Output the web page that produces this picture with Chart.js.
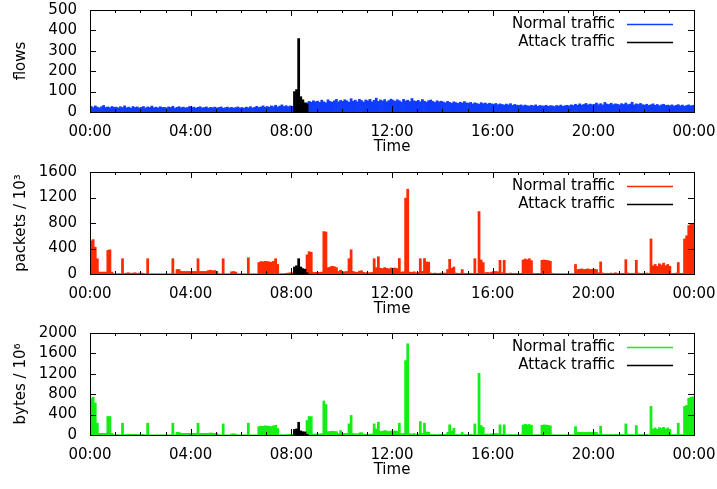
<!DOCTYPE html>
<html lang="en">
<head>
<meta charset="utf-8">
<title>Traffic</title>
<script src="https://cdn.jsdelivr.net/npm/chart.js@4.4.1/dist/chart.umd.min.js"></script>
<style>
  body { margin: 0; background: #fff; }
  .painel { position: absolute; left: 0; width: 717px; height: 162px; }
</style>
</head>
<body>
<div class="painel" style="top:0"><canvas id="chartFlows"></canvas></div>
<div class="painel" style="top:162px"><canvas id="chartPackets"></canvas></div>
<div class="painel" style="top:323px"><canvas id="chartBytes"></canvas></div>
<script>
// Cada valor cobre 5 minutos (uma linha = uma hora)
const binMinutes = 5;
// O ataque comeca as 08:05 (minuto 485)
const attackStart = 485;

const xTickLabels = ["00:00", "04:00", "08:00", "12:00", "16:00", "20:00", "00:00"];
const legendLabels = ["Normal traffic", "Attack traffic"];

const flowsNormal = [
  28, 22, 30, 24, 20, 26, 32, 22, 25, 21, 27, 23,
  24, 20, 26, 22, 30, 21, 24, 19, 27, 22, 25, 20,
  23, 27, 20, 25, 22, 29, 21, 24, 20, 26, 22, 23,
  20, 25, 22, 28, 19, 23, 26, 21, 24, 20, 22, 27,
  21, 24, 19, 23, 26, 20, 22, 25, 19, 23, 21, 24,
  20, 22, 25, 19, 21, 24, 20, 23, 19, 22, 25, 20,
  22, 19, 24, 21, 26, 20, 23, 28, 22, 25, 30, 24,
  27, 24, 30, 26, 33, 25, 29, 35, 27, 31, 26, 30,
  28, 25, 30, 27, 28, 26, 30, 45, 52, 48, 55, 50,
  53, 47, 58, 50, 45, 60, 52, 48, 55, 62, 50, 57,
  52, 60, 55, 48, 65, 53, 58, 50, 62, 56, 49, 59,
  55, 62, 50, 57, 68, 52, 59, 54, 61, 50, 56, 63,
  58, 52, 60, 55, 49, 62, 54, 58, 51, 66, 55, 52,
  57, 50, 61, 53, 48, 56, 59, 52, 47, 55, 50, 53,
  49, 45, 52, 47, 43, 50, 46, 42, 48, 44, 51, 45,
  43, 47, 40, 45, 42, 38, 46, 41, 44, 39, 43, 40,
  38, 42, 36, 40, 37, 34, 39, 35, 41, 33, 37, 34,
  32, 35, 30, 34, 31, 29, 33, 30, 35, 28, 32, 30,
  29, 33, 28, 31, 30, 27, 32, 29, 34, 28, 31, 33,
  30, 35, 32, 38, 33, 40, 34, 37, 42, 35, 39, 36,
  38, 44, 36, 41, 35, 47, 39, 37, 43, 36, 40, 38,
  35, 41, 37, 44, 36, 39, 48, 35, 40, 37, 42, 36,
  34, 38, 32, 36, 40, 33, 37, 31, 35, 38, 32, 34,
  31, 35, 29, 33, 36, 30, 34, 28, 32, 35, 30, 33,
];
const flowsAttack = [100, 110, 360, 75, 60, 45, 40];

const packetsNormal = [
  520, 540, 420, 240, 30, 30, 30, 30, 370, 380, 30, 5,
  5, 5, 5, 240, 10, 15, 20, 10, 15, 20, 10, 15,
  15, 10, 5, 240, 3, 3, 3, 3, 3, 3, 3, 3,
  3, 3, 3, 240, 3, 70, 70, 40, 40, 40, 40, 40,
  40, 40, 40, 240, 40, 40, 40, 40, 55, 60, 50, 55,
  40, 5, 3, 240, 3, 3, 3, 35, 40, 30, 3, 3,
  3, 3, 3, 255, 3, 3, 3, 3, 180, 195, 190, 200,
  195, 190, 185, 200, 240, 150, 5, 5, 5, 10, 15, 20,
  20, 60, 90, 80, 50, 40, 30, 300, 350, 340, 25, 25,
  25, 25, 30, 665, 660, 100, 110, 120, 115, 100, 40, 60,
  30, 35, 40, 240, 380, 40, 30, 25, 45, 50, 25, 20,
  20, 20, 25, 240, 100, 270, 90, 85, 100, 90, 80, 95,
  90, 95, 85, 243, 30, 35, 1190, 1330, 30, 25, 35, 20,
  25, 240, 40, 243, 190, 185, 15, 10, 15, 10, 12, 15,
  15, 15, 70, 230, 90, 110, 15, 10, 12, 70, 12, 10,
  10, 12, 10, 240, 10, 980, 220, 180, 20, 25, 20, 30,
  40, 40, 35, 215, 20, 215, 10, 10, 15, 10, 12, 10,
  10, 10, 220, 235, 225, 240, 210, 10, 8, 10, 8, 215,
  220, 215, 210, 200, 10, 5, 5, 5, 5, 5, 5, 5,
  5, 5, 5, 150, 70, 75, 80, 70, 75, 80, 70, 75,
  75, 70, 20, 190, 15, 10, 12, 10, 15, 10, 20, 12,
  10, 12, 10, 225, 15, 10, 12, 10, 215, 15, 10, 12,
  10, 15, 10, 550, 130, 150, 120, 160, 140, 170, 130, 150,
  120, 10, 10, 15, 180, 10, 10, 550, 600, 760, 780, 790,
];
const packetsAttack = [110, 130, 240, 110, 85, 75, 20];

const bytesNormal = [
  720, 740, 630, 231, 33, 33, 33, 33, 363, 363, 33, 5,
  5, 5, 5, 231, 10, 13, 15, 10, 13, 15, 10, 13,
  13, 10, 5, 231, 3, 3, 3, 3, 3, 3, 3, 3,
  3, 3, 3, 231, 3, 53, 50, 33, 33, 33, 33, 33,
  33, 33, 33, 231, 33, 33, 33, 33, 35, 40, 35, 33,
  33, 5, 3, 218, 3, 3, 3, 20, 25, 18, 3, 3,
  3, 3, 3, 231, 3, 3, 3, 3, 165, 175, 170, 180,
  175, 170, 165, 180, 190, 130, 5, 5, 5, 8, 10, 12,
  12, 40, 60, 50, 30, 25, 20, 284, 363, 360, 20, 20,
  20, 20, 25, 667, 600, 66, 70, 75, 70, 66, 30, 86,
  25, 30, 30, 218, 383, 30, 25, 20, 40, 46, 20, 15,
  15, 15, 20, 218, 119, 251, 70, 75, 86, 80, 66, 80,
  75, 80, 70, 231, 25, 30, 1459, 1789, 25, 20, 30, 15,
  20, 264, 30, 231, 60, 55, 12, 8, 12, 8, 10, 12,
  12, 12, 50, 200, 80, 132, 12, 8, 10, 50, 10, 8,
  8, 10, 8, 218, 8, 1208, 185, 150, 15, 20, 15, 25,
  30, 30, 25, 198, 15, 198, 8, 8, 10, 8, 10, 8,
  8, 8, 195, 210, 200, 205, 190, 8, 6, 8, 6, 190,
  198, 195, 190, 180, 8, 4, 4, 4, 4, 4, 4, 4,
  4, 4, 4, 165, 50, 53, 55, 50, 53, 55, 50, 53,
  55, 50, 15, 172, 12, 8, 10, 8, 12, 8, 15, 10,
  8, 10, 8, 218, 12, 8, 10, 8, 185, 12, 8, 10,
  8, 12, 8, 561, 120, 139, 110, 145, 130, 150, 120, 139,
  110, 8, 8, 12, 231, 8, 8, 560, 580, 720, 740, 750,
];
const bytesAttack = [110, 120, 250, 80, 65, 60, 15];

const fontFamily = "'DejaVu Sans', sans-serif";
const fontSize = 15;

// Converte a lista de valores em pontos {x: minuto, y: valor}
function toPoints(values, start) {
  return values.map((v, i) => ({
    x: start + i * binMinutes + binMinutes / 2,
    y: v,
  }));
}

// Plugin: moldura estilo gnuplot, ticks para dentro e legenda no canto
const gnuplotFrame = {
  id: "gnuplotFrame",
  afterDatasetsDraw(chart) {
    const { ctx, chartArea: a } = chart;
    const x = chart.scales.x;
    const y = chart.scales.y;
    ctx.save();
    ctx.strokeStyle = "#000";
    ctx.lineWidth = 1;
    ctx.beginPath();
    for (let m = 0; m <= 1440; m += 60) {
      const px = Math.round(x.getPixelForValue(m)) + 0.5;
      const len = m % 240 === 0 ? 6 : 3;
      ctx.moveTo(px, a.bottom);
      ctx.lineTo(px, a.bottom - len);
      ctx.moveTo(px, a.top);
      ctx.lineTo(px, a.top + len);
    }
    y.ticks.forEach((t) => {
      const py = Math.round(y.getPixelForValue(t.value)) + 0.5;
      ctx.moveTo(a.left, py);
      ctx.lineTo(a.left + 6, py);
      ctx.moveTo(a.right, py);
      ctx.lineTo(a.right - 6, py);
    });
    ctx.stroke();
    ctx.strokeRect(
      Math.round(a.left) + 0.5,
      Math.round(a.top) + 0.5,
      Math.round(a.width),
      Math.round(a.height)
    );

    // Legenda: texto alinhado a direita e amostra da linha
    ctx.font = fontSize + "px " + fontFamily;
    ctx.textAlign = "right";
    ctx.textBaseline = "middle";
    chart.data.datasets.forEach((ds, i) => {
      const rowY = Math.round(a.top + 14 + i * 18);
      ctx.fillStyle = "#000";
      ctx.fillText(ds.label, a.right - 79, rowY);
      ctx.strokeStyle = ds.legendColor;
      ctx.lineWidth = 1.3;
      ctx.beginPath();
      ctx.moveTo(a.right - 67, rowY + 0.5);
      ctx.lineTo(a.right - 21, rowY + 0.5);
      ctx.stroke();
    });
    ctx.restore();
  },
};

// Cria um dos tres graficos
function criarGrafico(canvasId, normal, attack, color, yMax, yStep, yTitle) {
  const ctx = document.getElementById(canvasId).getContext("2d");
  const font = { family: fontFamily, size: fontSize };
  return new Chart(ctx, {
    type: "bar",
    data: {
      datasets: [
        {
          label: legendLabels[0],
          data: toPoints(normal, 0),
          backgroundColor: color,
          legendColor: color,
          borderWidth: 0,
          order: 2,
        },
        {
          label: legendLabels[1],
          data: toPoints(attack, attackStart),
          backgroundColor: "#000000",
          legendColor: "#000000",
          borderWidth: 0,
          order: 1,
        },
      ],
    },
    options: {
      responsive: true,
      maintainAspectRatio: false,
      animation: false,
      layout: { padding: { top: 10, right: 23, left: 0, bottom: 0 } },
      datasets: {
        bar: { grouped: false, barPercentage: 1, categoryPercentage: 1 },
      },
      plugins: { legend: { display: false }, tooltip: { enabled: false } },
      scales: {
        x: {
          type: "linear",
          min: 0,
          max: 1440,
          offset: false,
          grid: { display: false, drawTicks: false },
          border: { display: false },
          ticks: {
            stepSize: 240,
            autoSkip: false,
            maxRotation: 0,
            padding: 11,
            color: "#000",
            font: font,
            callback: (v, i) => xTickLabels[i],
          },
          title: {
            display: true,
            text: "Time",
            color: "#000",
            font: font,
            padding: { top: 0, bottom: 6 },
          },
          afterFit: (scale) => {
            scale.height = 50;
            scale.paddingLeft = 0;
            scale.paddingRight = 0;
          },
        },
        y: {
          min: 0,
          max: yMax,
          grid: { display: false, drawTicks: false },
          border: { display: false },
          ticks: {
            stepSize: yStep,
            autoSkip: false,
            padding: 13,
            color: "#000",
            font: font,
            callback: (v) => String(v),
          },
          title: {
            display: true,
            text: yTitle,
            color: "#000",
            font: font,
            padding: { top: 12, bottom: 0 },
          },
          afterFit: (scale) => {
            scale.width = 90;
            scale.paddingTop = 0;
            scale.paddingBottom = 0;
          },
        },
      },
    },
    plugins: [gnuplotFrame],
  });
}

criarGrafico("chartFlows", flowsNormal, flowsAttack, "#0f3cff", 500, 100, "flows");
criarGrafico("chartPackets", packetsNormal, packetsAttack, "#ff2a00", 1600, 400, "packets / 10³");
criarGrafico("chartBytes", bytesNormal, bytesAttack, "#12ef12", 2000, 400, "bytes / 10⁶");
</script>
</body>
</html>
